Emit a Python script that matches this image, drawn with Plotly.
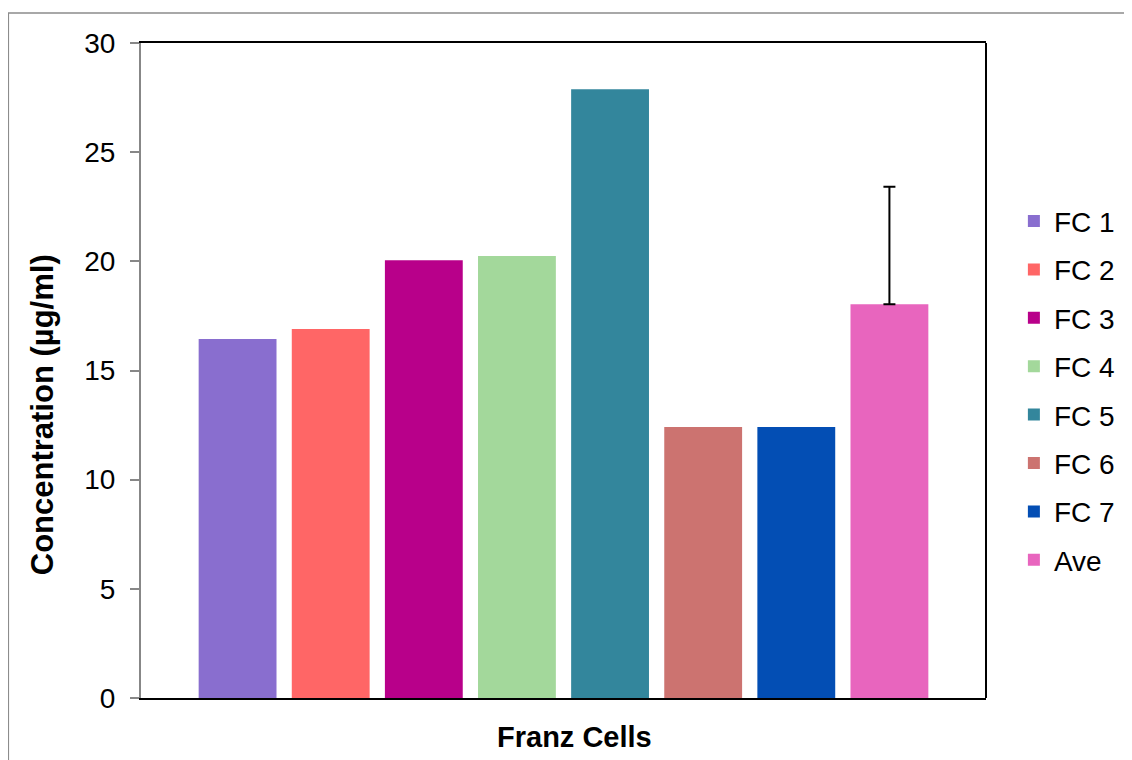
import plotly.graph_objects as go

# Data
series = ['FC 1', 'FC 2', 'FC 3', 'FC 4', 'FC 5', 'FC 6', 'FC 7', 'Ave']
values = [16.44, 16.9, 20.05, 20.24, 27.88, 12.41, 12.41, 18.04]
ave_error = 5.38
colors = ['#896ECF', '#FF6666', '#B8008A', '#A3D89B', '#33869C',
          '#CC7370', '#034EB4', '#E865BE']
category = 'Franz Cells'

fig = go.Figure()
for name, val, col in zip(series, values, colors):
    err = None
    if name == 'Ave':
        err = dict(type='data', symmetric=False, array=[ave_error], arrayminus=[0],
                   color='black', thickness=2, width=6)
    fig.add_trace(go.Bar(x=[category], y=[val], name=name, marker_color=col,
                         marker_line_width=0, error_y=err, legendgroup=name))

# Plot frame: outer gray border and black right edge
fig.add_shape(type='rect', xref='paper', yref='paper', x0=-0.157, x1=1.3, y0=-0.3, y1=1.0458,
              line=dict(color='#8C8C8C', width=1.5), layer='below')
fig.add_shape(type='line', xref='paper', yref='paper', x0=1, x1=1, y0=0, y1=1,
              line=dict(color='black', width=2))

# axis titles as annotations (they sit off-centre in the original)
fig.add_annotation(text='<b>Franz Cells</b>', xref='paper', yref='paper',
                   x=0.5136, y=-0.0595, xanchor='center', yanchor='middle',
                   showarrow=False, font=dict(size=29))
fig.add_annotation(text='<b>Concentration (µg/ml)</b>', xref='paper', yref='paper',
                   x=-0.1169, y=0.432, xanchor='center', yanchor='middle', textangle=-90,
                   showarrow=False, font=dict(size=31))

# page body adds an 8px offset, so the figure is a bit smaller than the window
fig.update_layout(
    width=1124, height=752,
    margin=dict(l=133, r=142, t=35, b=62),
    paper_bgcolor='white', plot_bgcolor='white',
    barmode='group', bargap=0.1184, bargroupgap=0.164,
    font=dict(family='Liberation Sans, Arial', color='black'),
    legend=dict(x=1.033, xanchor='left', y=0.469, yanchor='middle',
                font=dict(size=28), tracegroupgap=9, bgcolor='rgba(0,0,0,0)'),
)

fig.update_xaxes(range=[-0.5, 0.5], showticklabels=False, ticks='',
                 showline=True, linecolor='black', linewidth=2, mirror=True,
                 showgrid=False)
fig.update_yaxes(range=[0, 30], dtick=5, showgrid=False, zeroline=False,
                 showline=True, linecolor='#878787', linewidth=2,
                 ticks='outside', ticklen=9, tickwidth=2, tickcolor='#878787',
                 tickfont=dict(size=28), ticklabelstandoff=9)

fig.write_html('out.html')
